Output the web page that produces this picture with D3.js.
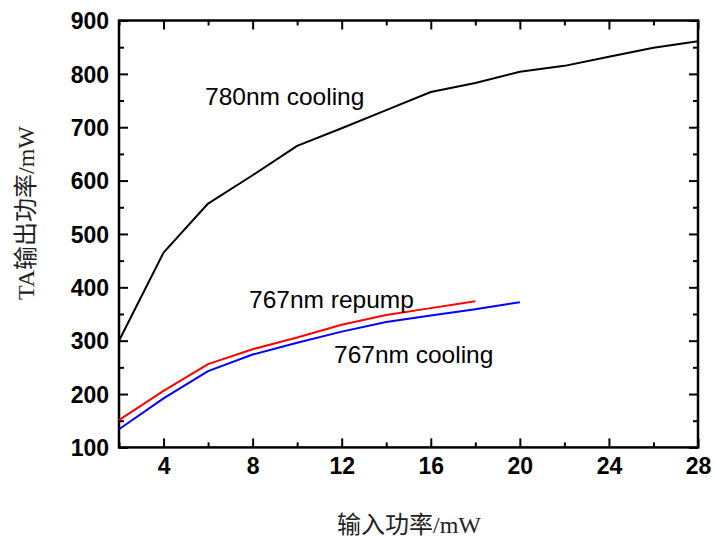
<!DOCTYPE html>
<html>
<head>
<meta charset="utf-8">
<script src="https://cdn.jsdelivr.net/npm/d3@7"></script>
<style>
  html, body { margin: 0; padding: 0; background: #fff; }
  svg { display: block; }
</style>
</head>
<body>
<svg id="chart" width="715" height="540"></svg>
<script>
// Input power (mW) and TA output power (mW) for each seed laser
const coolingX780 = [2, 4, 6, 8, 10, 12, 14, 16, 18, 20, 22, 24, 26, 28];
const coolingY780 = [300, 465, 557, 610, 665, 698, 732, 766, 783, 804, 815, 832, 849, 861];

const repumpX767 = [2, 4, 6, 8, 10, 12, 14, 16, 18];
const repumpY767 = [151, 206, 256, 284, 306, 330, 348, 361, 374];

const coolingX767 = [2, 4, 6, 8, 10, 12, 14, 16, 18, 20];
const coolingY767 = [134, 192, 243, 274, 296, 317, 335, 347, 359, 372];

const xTicks = [4, 8, 12, 16, 20, 24, 28];
const xMinorTicks = [2, 6, 10, 14, 18, 22, 26];
const yTicks = [100, 200, 300, 400, 500, 600, 700, 800, 900];
const yMinorTicks = [150, 250, 350, 450, 550, 650, 750, 850];

const seriesLabels = ["780nm cooling", "767nm repump", "767nm cooling"];
const xTitle = "输入功率/mW";
const yTitle = "TA输出功率/mW";

const svg = d3.select("#chart");
const plotLeft = 119, plotRight = 698, plotTop = 20.5, plotBottom = 447.4;

const x = d3.scaleLinear().domain([2, 28]).range([plotLeft, plotRight]);
const y = d3.scaleLinear().domain([100, 900]).range([plotBottom, plotTop]);

const tickFont = "'Liberation Sans', Arial, sans-serif";

// inward ticks on all four sides
function drawAxis(axisGen, transform, majors, minors) {
  const gMaj = svg.append("g").attr("transform", transform)
    .call(axisGen.tickValues(majors).tickSizeInner(-9).tickSizeOuter(0));
  const gMin = svg.append("g").attr("transform", transform)
    .call(axisGen.tickValues(minors).tickSizeInner(-5).tickSizeOuter(0).tickFormat(""));
  [gMaj, gMin].forEach(g => {
    g.select(".domain").remove();
    g.selectAll(".tick line").attr("stroke", "#000").attr("stroke-width", 2);
  });
  return gMaj;
}

const gx = drawAxis(d3.axisBottom(x), `translate(0,${plotBottom})`, xTicks, xMinorTicks);
gx.selectAll(".tick text")
  .attr("font-family", tickFont).attr("font-size", 23).attr("font-weight", "bold")
  .attr("fill", "#000").attr("dy", "0.71em").attr("y", 10);

const gy = drawAxis(d3.axisLeft(y), `translate(${plotLeft},0)`, yTicks, yMinorTicks);
gy.selectAll(".tick text")
  .attr("font-family", tickFont).attr("font-size", 23).attr("font-weight", "bold")
  .attr("fill", "#000").attr("x", -10).attr("dy", "0.36em");

const gt = drawAxis(d3.axisTop(x), `translate(0,${plotTop})`, xTicks, xMinorTicks);
gt.selectAll(".tick text").remove();
const gr = drawAxis(d3.axisRight(y), `translate(${plotRight},0)`, yTicks, yMinorTicks);
gr.selectAll(".tick text").remove();

// frame
svg.append("rect")
  .attr("x", plotLeft).attr("y", plotTop)
  .attr("width", plotRight - plotLeft).attr("height", plotBottom - plotTop)
  .attr("fill", "none").attr("stroke", "#000").attr("stroke-width", 2.5);

// curves
const line = d3.line().x(d => x(d[0])).y(d => y(d[1]));
const series = [
  { xs: coolingX780, ys: coolingY780, color: "#000" },
  { xs: repumpX767, ys: repumpY767, color: "#ff0000" },
  { xs: coolingX767, ys: coolingY767, color: "#0000ff" }
];
series.forEach(s => {
  svg.append("path")
    .datum(d3.zip(s.xs, s.ys))
    .attr("d", line)
    .attr("fill", "none")
    .attr("stroke", s.color)
    .attr("stroke-width", 2)
    .attr("stroke-linejoin", "round");
});

// curve annotations
const annFont = "'Liberation Sans', Arial, sans-serif";
[[seriesLabels[0], 205, 105], [seriesLabels[1], 249, 308], [seriesLabels[2], 334, 363]]
  .forEach(([t, tx, ty]) => {
    svg.append("text").attr("x", tx).attr("y", ty)
      .attr("font-family", annFont).attr("font-size", 24.5)
      .attr("fill", "#000").text(t);
  });

// axis titles
const titleFont = "'Liberation Serif', 'Noto Sans CJK SC', serif";
svg.append("text")
  .attr("x", 409).attr("y", 533)
  .attr("text-anchor", "middle")
  .attr("font-family", titleFont).attr("font-size", 24)
  .attr("fill", "#222").text(xTitle);

svg.append("text")
  .attr("transform", "translate(34,213) rotate(-90)")
  .attr("text-anchor", "middle")
  .attr("font-family", titleFont).attr("font-size", 24)
  .attr("fill", "#222").text(yTitle);
</script>
</body>
</html>
